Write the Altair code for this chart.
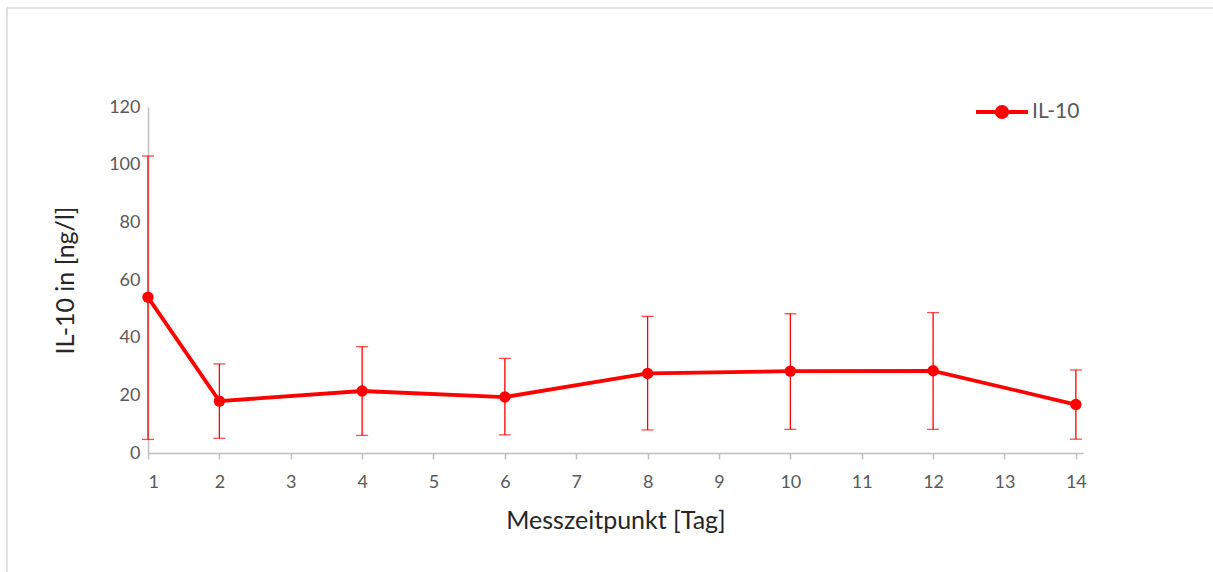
import altair as alt
import pandas as pd

days = [1, 2, 4, 6, 8, 10, 12, 14]
mean = [54.0, 18.0, 21.5, 19.4, 27.6, 28.4, 28.5, 16.8]
upper = [103.0, 30.9, 36.9, 32.8, 47.4, 48.3, 48.7, 28.8]
lower = [4.7, 5.1, 6.1, 6.3, 8.0, 8.2, 8.2, 4.8]
series = ["IL-10"] * len(days)
x_ticks = list(range(1, 15))
y_ticks = [0, 20, 40, 60, 80, 100, 120]

df = pd.DataFrame({"day": days, "mean": mean, "upper": upper, "lower": lower, "series": series})

FONT = "Lato"
TXT = "#595959"
AX = "#bfbfbf"
RED = "#ff0000"

W, H = 935, 346
PL, PT = 148, 107

xs = alt.Scale(domain=[1, 14.1], nice=False, zero=False)
ys = alt.Scale(domain=[0, 120], nice=False)

xaxis = alt.Axis(values=x_ticks, title="Messzeitpunkt [Tag]", grid=False, domainColor=AX,
                 domainWidth=1.5, tickColor=AX, tickWidth=1.5, tickSize=6,
                 labelColor=TXT, labelFont=FONT, labelFontSize=18, labelPadding=14,
                 titleColor="#262626", titleFont=FONT, titleFontSize=25, titleFontWeight="normal",
                 titlePadding=17, format="d")
yaxis = alt.Axis(values=y_ticks, title="IL-10 in [ng/l]", grid=False, domainColor=AX,
                 domainWidth=1.5, ticks=False, labelColor=TXT, labelFont=FONT,
                 labelFontSize=18, labelPadding=8, titleColor="#262626", titleFont=FONT,
                 titleFontSize=25, titleFontWeight="normal", titlePadding=30)

base = alt.Chart(df)

err = base.mark_rule(color=RED, strokeWidth=1.3).encode(
    x=alt.X("day:Q", scale=xs, axis=xaxis),
    y=alt.Y("lower:Q", scale=ys, axis=yaxis),
    y2="upper:Q",
)
cap_hi = base.mark_tick(color=RED, thickness=1.3, size=12, orient="horizontal").encode(
    x=alt.X("day:Q", scale=xs), y=alt.Y("upper:Q", scale=ys))
cap_lo = base.mark_tick(color=RED, thickness=1.3, size=12, orient="horizontal").encode(
    x=alt.X("day:Q", scale=xs), y=alt.Y("lower:Q", scale=ys))

legend_path = "M-1,0L1,0M-0.2,0A0.2,0.2 0 1,1 0.2,0A0.2,0.2 0 1,1 -0.2,0Z"
line = base.mark_line(strokeWidth=3.8, point=alt.OverlayMarkDef(filled=True, size=130, opacity=1)).encode(
    x=alt.X("day:Q", scale=xs),
    y=alt.Y("mean:Q", scale=ys),
    color=alt.Color("series:N", scale=alt.Scale(range=[RED]),
                    legend=alt.Legend(title=None, orient="none", legendX=826, legendY=-23,
                                      symbolType=legend_path, symbolSize=2704,
                                      symbolStrokeWidth=3.8, symbolFillColor=RED,
                                      symbolStrokeColor=RED, labelFont=FONT,
                                      labelFontSize=21, labelColor=TXT, labelOffset=2)),
)

one = alt.Data(values=[{}])
border_left = alt.Chart(one).mark_rule(color="#d9d9d9", strokeWidth=1.5).encode(
    x=alt.value(7 - PL), y=alt.value(8 - PT), y2=alt.value(572 - PT))
border_top = alt.Chart(one).mark_rule(color="#d9d9d9", strokeWidth=1.5).encode(
    x=alt.value(7 - PL), x2=alt.value(1213 - PL), y=alt.value(8 - PT))

chart = alt.layer(border_left, border_top, err, cap_hi, cap_lo, line).properties(
    width=W, height=H,
    autosize=alt.AutoSizeParams(type="none"),
    padding={"left": PL, "top": PT, "right": 1213 - PL - W, "bottom": 572 - PT - H},
    background="white",
).configure_view(stroke=None)

chart.save("out.html", embed_options={"renderer": "svg", "actions": False})
